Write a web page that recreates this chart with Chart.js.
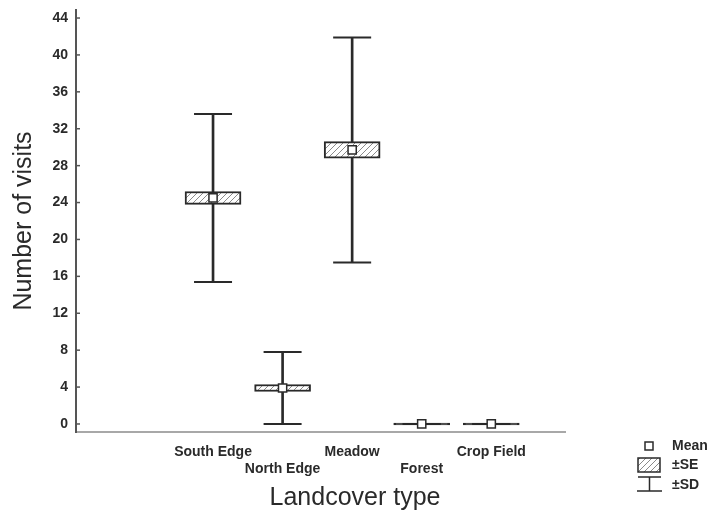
<!DOCTYPE html>
<html>
<head>
<meta charset="utf-8">
<script src="https://cdn.jsdelivr.net/npm/chart.js@4.4.1/dist/chart.umd.min.js"></script>
<style>
  html, body { margin: 0; padding: 0; background: #fff; }
  #wrap { position: relative; width: 710px; height: 512px; }
</style>
</head>
<body>
<div id="wrap"><canvas id="visitsChart" width="710" height="512"></canvas></div>
<script>
// Visits per landcover type: mean, standard error and standard deviation
const categories = ['South Edge', 'North Edge', 'Meadow', 'Forest', 'Crop Field'];
const catPositions = [1, 2, 3, 4, 5];
const meanVisits = [24.5, 3.9, 29.7, 0, 0];
const seVisits = [0.7, 0.38, 0.9, 0, 0];
const sdVisits = [9.1, 3.9, 12.2, 0, 0];
const yTicks = [0, 4, 8, 12, 16, 20, 24, 28, 32, 36, 40, 44];

const FONT = '"Liberation Sans", Arial, sans-serif';
const INK = '#2a2a2a';

// diagonal hatch used for the ±SE boxes
function makeHatch() {
    const c = document.createElement('canvas');
    c.width = 6; c.height = 6;
    const g = c.getContext('2d');
    g.fillStyle = '#fff';
    g.fillRect(0, 0, 6, 6);
    g.strokeStyle = '#8a8a8a';
    g.lineWidth = 1;
    g.beginPath();
    g.moveTo(0, 6); g.lineTo(6, 0);
    g.moveTo(-1, 1); g.lineTo(1, -1);
    g.moveTo(5, 7); g.lineTo(7, 5);
    g.stroke();
    return g.createPattern(c, 'repeat');
}
const hatch = makeHatch();

const sdRanges = catPositions.map((x, i) => ({ x: x, y: [meanVisits[i] - sdVisits[i], meanVisits[i] + sdVisits[i]] }));
const seRanges = catPositions.map((x, i) => ({ x: x, y: [meanVisits[i] - seVisits[i], meanVisits[i] + seVisits[i]] }));
const sdCaps = [];
catPositions.forEach((x, i) => {
    sdCaps.push({ x: x, y: meanVisits[i] + sdVisits[i] });
    sdCaps.push({ x: x, y: meanVisits[i] - sdVisits[i] });
});
const meanPoints = catPositions.map((x, i) => ({ x: x, y: meanVisits[i] }));

// inward y ticks, x-axis title and the Mean / ±SE / ±SD key
const decorations = {
    id: 'decorations',
    afterDraw(chart) {
        const ctx = chart.ctx;
        const yScale = chart.scales.y;
        const left = chart.chartArea.left;
        ctx.save();

        ctx.strokeStyle = '#555';
        ctx.lineWidth = 1.5;
        yScale.ticks.forEach(t => {
            const py = yScale.getPixelForValue(t.value);
            ctx.beginPath();
            ctx.moveTo(left, py);
            ctx.lineTo(left + 4, py);
            ctx.stroke();
        });

        ctx.fillStyle = INK;
        ctx.font = '25px ' + FONT;
        ctx.textAlign = 'center';
        ctx.textBaseline = 'alphabetic';
        ctx.fillText('Landcover type', 355, 505);

        // key
        ctx.strokeStyle = INK;
        ctx.lineWidth = 1.5;
        ctx.fillStyle = '#fff';
        ctx.fillRect(645, 442, 8, 8);
        ctx.strokeRect(645, 442, 8, 8);

        ctx.fillStyle = hatch;
        ctx.fillRect(638, 458, 22, 14);
        ctx.strokeRect(638, 458, 22, 14);

        ctx.beginPath();
        ctx.moveTo(638, 477); ctx.lineTo(661, 477);
        ctx.moveTo(649.5, 477); ctx.lineTo(649.5, 491);
        ctx.moveTo(637, 491); ctx.lineTo(662, 491);
        ctx.stroke();

        ctx.fillStyle = INK;
        ctx.font = 'bold 14px ' + FONT;
        ctx.textAlign = 'left';
        ctx.textBaseline = 'middle';
        ctx.fillText('Mean', 672, 446);
        ctx.fillText('\u00B1SE', 672, 465);
        ctx.fillText('\u00B1SD', 672, 485);

        ctx.restore();
    }
};

const ctx = document.getElementById('visitsChart');
new Chart(ctx.getContext('2d'), {
    type: 'bar',
    data: {
        datasets: [
            {
                label: 'Mean',
                type: 'scatter',
                data: meanPoints,
                pointStyle: 'rect',
                pointRadius: 5.8,
                pointBackgroundColor: '#fff',
                pointBorderColor: INK,
                pointBorderWidth: 1.5,
                order: 0
            },
            {
                label: '±SE',
                data: seRanges,
                grouped: false,
                barThickness: 56,
                minBarLength: 2,
                // a zero-width SE range collapses to a solid line
                backgroundColor: (c) => seVisits[c.dataIndex] === 0 ? INK : hatch,
                borderColor: INK,
                borderWidth: 2,
                borderSkipped: false,
                order: 1
            },
            {
                label: 'SD caps',
                type: 'scatter',
                data: sdCaps,
                pointStyle: 'line',
                pointRadius: 19,
                pointBorderColor: INK,
                pointBorderWidth: 2,
                order: 2
            },
            {
                label: '±SD',
                data: sdRanges,
                grouped: false,
                barThickness: 2,
                backgroundColor: INK,
                borderWidth: 0,
                order: 3
            }
        ]
    },
    options: {
        responsive: false,
        animation: false,
        layout: { autoPadding: false, padding: { top: 10, right: 145, left: 0, bottom: 0 } },
        plugins: {
            legend: { display: false },
            tooltip: { enabled: false }
        },
        scales: {
            x: {
                type: 'linear',
                min: -0.97,
                max: 6.06,
                offset: false,
                afterBuildTicks: (scale) => {
                    scale.ticks = catPositions.map(v => ({ value: v }));
                },
                afterFit: (scale) => {
                    scale.height = 80;
                    scale.paddingLeft = 0;
                    scale.paddingRight = 0;
                },
                grid: { display: true, color: 'transparent', drawTicks: false },
                border: { display: true, color: '#a8a8a8', width: 2 },
                ticks: {
                    padding: 11,
                    autoSkip: false,
                    maxRotation: 0,
                    color: INK,
                    font: { family: FONT, size: 14, weight: 'bold', lineHeight: 1.25 },
                    callback: (value) => {
                        const i = catPositions.indexOf(value);
                        if (i < 0) return '';
                        return i % 2 === 0 ? categories[i] : ['', categories[i]];
                    }
                }
            },
            y: {
                type: 'linear',
                min: -0.87,
                max: 44.87,
                afterBuildTicks: (scale) => {
                    scale.ticks = yTicks.map(v => ({ value: v }));
                },
                afterFit: (scale) => {
                    scale.width = 76;
                    scale.paddingTop = 0;
                    scale.paddingBottom = 0;
                },
                grid: { display: true, color: 'transparent', drawTicks: false },
                border: { display: true, color: '#555', width: 2 },
                ticks: {
                    padding: 8,
                    color: INK,
                    font: { family: FONT, size: 14, weight: 'bold' }
                },
                title: {
                    display: true,
                    text: 'Number of visits',
                    color: INK,
                    font: { family: FONT, size: 25 },
                    padding: { top: 9, bottom: 0 }
                }
            }
        }
    },
    plugins: [decorations]
});
</script>
</body>
</html>
